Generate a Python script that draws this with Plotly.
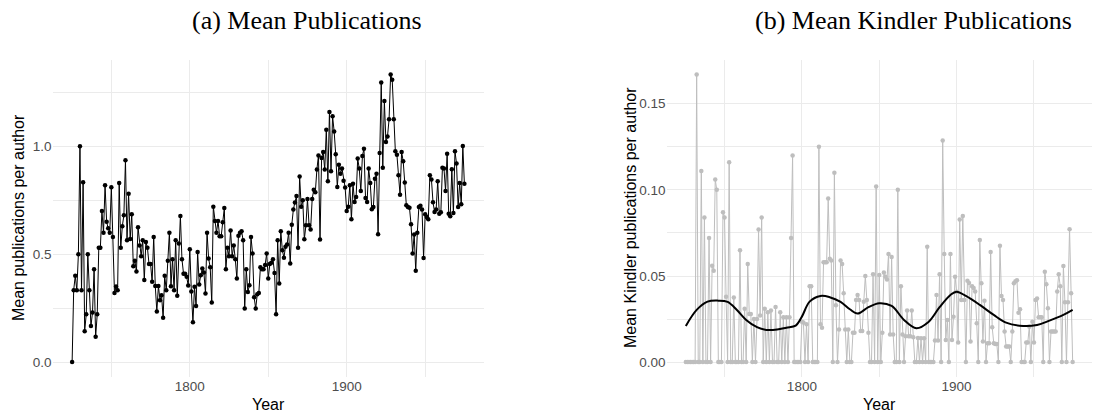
import plotly.graph_objects as go

# ---------------- data ----------------
years = list(range(1725, 1976))

mean_pubs = [
    0.0, 0.333, 0.40, 0.333, 0.50, 1.0, 0.333, 0.833, 0.143, 0.222,
    0.50, 0.333, 0.167, 0.23, 0.43, 0.117, 0.222, 0.53, 0.53, 0.70,
    0.60, 0.82, 0.65, 0.62, 0.60, 0.81, 0.58, 0.32, 0.35, 0.333,
    0.83, 0.53, 0.63, 0.68, 0.935, 0.565, 0.78, 0.57, 0.685, 0.444,
    0.47, 0.42, 0.625, 0.54, 0.49, 0.565, 0.38, 0.557, 0.53, 0.455,
    0.455, 0.372, 0.58, 0.353, 0.235, 0.353, 0.287, 0.31, 0.205, 0.40,
    0.333, 0.47, 0.60, 0.352, 0.477, 0.333, 0.565, 0.307, 0.55, 0.677,
    0.477, 0.41, 0.41, 0.395, 0.355, 0.523, 0.327, 0.185, 0.349, 0.26,
    0.51, 0.36, 0.403, 0.434, 0.415, 0.318, 0.60, 0.48, 0.44, 0.276,
    0.72, 0.654, 0.60, 0.654, 0.583, 0.583, 0.648, 0.714, 0.43, 0.53,
    0.49, 0.61, 0.49, 0.54, 0.477, 0.387, 0.586, 0.60, 0.606, 0.565,
    0.248, 0.43, 0.325, 0.356, 0.58, 0.503, 0.30, 0.248, 0.315, 0.32,
    0.44, 0.43, 0.43, 0.45, 0.503, 0.387, 0.455, 0.46, 0.477, 0.413,
    0.222, 0.565, 0.364, 0.606, 0.518, 0.484, 0.535, 0.545, 0.60, 0.457,
    0.637, 0.707, 0.74, 0.77, 0.53, 0.86, 0.72, 0.75,
    0.569, 0.634, 0.756, 0.634, 0.614, 0.756, 0.799, 0.787, 0.892, 0.958,
    0.568, 0.946, 0.974, 0.892, 1.077, 0.838, 1.159, 0.884, 1.139, 1.069,
    0.963, 0.812, 0.915, 0.873, 0.897, 0.84, 0.809, 0.70, 0.72, 0.82,
    0.662, 0.827, 0.742, 0.765, 0.943, 0.897, 0.793, 0.955, 0.989, 0.761,
    0.742, 0.897, 0.83, 0.708, 0.719, 0.85, 0.873, 0.592, 0.969, 1.296,
    0.901, 1.21, 1.02, 1.046, 1.125, 1.333, 1.309, 1.125, 0.977, 0.961,
    0.866, 0.775, 0.974, 0.931, 0.832, 0.727, 0.719, 0.715, 0.639, 0.503,
    0.591, 0.423, 0.599, 0.719, 0.724, 0.707, 0.483, 0.685, 0.673, 0.662,
    0.866, 0.846, 0.741, 0.696, 0.707, 0.838, 0.688, 0.694, 0.901, 0.897,
    0.793, 0.966, 0.688, 0.676, 0.894, 0.691, 0.977, 0.92, 0.719, 0.83,
    0.731, 1.001, 0.827,
]

kindler_pubs = [
    0, 0, 0, 0, 0, 0, 0, 0.167, 0, 0,
    0.111, 0, 0.084, 0, 0, 0.072, 0, 0.056, 0.053, 0.106,
    0.100, 0, 0, 0, 0.087, 0.084, 0.038, 0, 0.116, 0,
    0, 0.0375, 0, 0, 0, 0.065, 0, 0, 0.031, 0,
    0.057, 0.028, 0.028, 0, 0.025, 0, 0.025, 0.077, 0.027, 0.084,
    0, 0.031, 0, 0.029, 0, 0.030, 0, 0, 0.032, 0,
    0, 0.029, 0, 0.026, 0, 0.026, 0, 0.026, 0.072, 0.12,
    0, 0, 0, 0, 0, 0.0235, 0.023, 0, 0.022, 0,
    0.044, 0.044, 0, 0, 0, 0, 0.125, 0.022, 0.020, 0.058,
    0.058, 0.058, 0.095, 0.060, 0.059, 0, 0.11, 0.033, 0, 0.019,
    0.059, 0.057, 0.040, 0.019, 0, 0.019, 0, 0, 0.017, 0.017,
    0.036, 0.039,
    0.036, 0.018, 0.018, 0.035, 0.050, 0.036, 0.017, 0, 0, 0.051,
    0, 0.102, 0, 0.0506, 0, 0.017, 0.052, 0.0496, 0.048, 0.0627,
    0.016, 0.061, 0.016, 0, 0, 0.100, 0, 0.044, 0.016, 0,
    0.015, 0.030, 0.015, 0.015, 0.030, 0.0145, 0, 0, 0.014, 0,
    0.0139, 0, 0.0139, 0, 0.067, 0, 0, 0, 0, 0.0125,
    0.039, 0.0125, 0.051, 0, 0.1286, 0.0627, 0.0129, 0.0245, 0, 0.0627,
    0.0129, 0.0264, 0.0496, 0.0409, 0.0114, 0.0828, 0.036, 0.0848, 0.036, 0,
    0.0473, 0.046, 0.0119, 0.044, 0.043, 0.041, 0.0226, 0, 0.0709, 0.0458,
    0.012, 0.0357, 0, 0.011, 0.011, 0.064, 0.0203, 0.011, 0.0105, 0.0105,
    0, 0.0676, 0.0384, 0.036, 0.0178, 0.009, 0.009, 0.009, 0, 0.0178,
    0.0458, 0.047, 0.0475, 0.0287, 0.0307, 0, 0, 0, 0.0114, 0.0114,
    0.0206, 0, 0.0235, 0.0114, 0.036, 0.037, 0.026, 0.026, 0.026, 0,
    0.0525, 0.0452, 0.0313, 0, 0.0178, 0.0178, 0.0178, 0.0178, 0.041, 0.051,
    0.044, 0, 0.0558, 0.0348, 0, 0.0348, 0.0772, 0.040, 0,
]

smooth_years = [1725, 1732, 1739, 1746, 1752, 1758, 1764, 1771, 1777, 1784,
                1790, 1796, 1800, 1805, 1812, 1818, 1825, 1831, 1836, 1843,
                1850, 1858, 1866, 1874, 1882, 1889, 1896, 1900, 1906, 1915,
                1924, 1932, 1943, 1952, 1960, 1969, 1975]
smooth_vals = [0.021, 0.0303, 0.0351, 0.0357, 0.0350, 0.0303, 0.0245, 0.0203, 0.0187, 0.0189,
               0.0200, 0.0212, 0.0264, 0.0351, 0.0384, 0.0377, 0.0350, 0.0307, 0.0282, 0.0319,
               0.0342, 0.0326, 0.0245, 0.0197, 0.0235, 0.0319, 0.0390, 0.0409, 0.0384, 0.0332,
               0.0274, 0.0229, 0.0210, 0.0216, 0.0241, 0.0274, 0.0303]

titles = ["(a) Mean Publications", "(b) Mean Kindler Publications"]
y_titles = ["Mean publications per author", "Mean Kindler publications per author"]
x_title = "Year"

# ---------------- figure ----------------
W, H = 1098, 412
def pxx(x): return x / W
def pyy(y): return 1 - y / H

GRID = "#EBEBEB"
TICKFONT = dict(family="Liberation Sans, Arial, sans-serif", size=13.5, color="#4D4D4D")

fig = go.Figure()
fig.add_trace(go.Scatter(x=years, y=mean_pubs, mode="lines+markers",
                         line=dict(color="black", width=1),
                         marker=dict(color="black", size=4.5),
                         xaxis="x", yaxis="y", showlegend=False, hoverinfo="skip"))
fig.add_trace(go.Scatter(x=years, y=kindler_pubs, mode="lines+markers",
                         line=dict(color="#BEBEBE", width=1),
                         marker=dict(color="#BEBEBE", size=4.5),
                         xaxis="x2", yaxis="y2", showlegend=False, hoverinfo="skip"))
fig.add_trace(go.Scatter(x=smooth_years, y=smooth_vals, mode="lines",
                         line=dict(color="black", width=2, shape="spline", smoothing=1.0),
                         xaxis="x2", yaxis="y2", showlegend=False, hoverinfo="skip"))

def axis_common(**kw):
    d = dict(showgrid=True, gridcolor=GRID, gridwidth=1, zeroline=False, showline=False,
             ticks="", tickfont=TICKFONT, fixedrange=True)
    d.update(kw)
    return d

ydom = [pyy(376.5), pyy(60)]
fig.update_layout(
    width=W, height=H,
    margin=dict(l=0, r=0, t=0, b=0),
    paper_bgcolor="white", plot_bgcolor="white",
    xaxis=axis_common(domain=[pxx(52.5), pxx(484)], range=[1712.5, 1987.5],
                      tick0=1800, dtick=100, anchor="y",
                      minor=dict(dtick=50, showgrid=True, gridcolor=GRID, gridwidth=0.6)),
    yaxis=axis_common(domain=ydom, range=[-0.0667, 1.4], tick0=0, dtick=0.5,
                      tickformat=".1f", anchor="x",
                      minor=dict(dtick=0.25, showgrid=True, gridcolor=GRID, gridwidth=0.6)),
    xaxis2=axis_common(domain=[pxx(666.5), pxx(1092)], range=[1712.5, 1987.5],
                       tick0=1800, dtick=100, anchor="y2",
                       minor=dict(dtick=50, showgrid=True, gridcolor=GRID, gridwidth=0.6)),
    yaxis2=axis_common(domain=ydom, range=[-0.00835, 0.1754], tick0=0, dtick=0.05,
                       tickformat=".2f", anchor="x2",
                       minor=dict(dtick=0.025, showgrid=True, gridcolor=GRID, gridwidth=0.6)),
)

TITLEFONT = dict(family="Liberation Serif, Times New Roman, serif", size=26, color="black")
AXTFONT = dict(family="Liberation Sans, Arial, sans-serif", size=16, color="black")

ann = []
ann.append(dict(text=titles[0], x=pxx(307), y=pyy(21), xref="paper", yref="paper",
                xanchor="center", yanchor="middle", showarrow=False, font=TITLEFONT))
ann.append(dict(text=titles[1], x=pxx(913), y=pyy(21), xref="paper", yref="paper",
                xanchor="center", yanchor="middle", showarrow=False, font=TITLEFONT))
ann.append(dict(text=x_title, x=pxx((52.5 + 484) / 2), y=pyy(404), xref="paper", yref="paper",
                xanchor="center", yanchor="middle", showarrow=False, font=AXTFONT))
ann.append(dict(text=x_title, x=pxx((666.5 + 1092) / 2), y=pyy(404), xref="paper", yref="paper",
                xanchor="center", yanchor="middle", showarrow=False, font=AXTFONT))
ann.append(dict(text=y_titles[0], x=pxx(18), y=pyy(218), xref="paper", yref="paper",
                xanchor="center", yanchor="middle", showarrow=False, textangle=-90, font=AXTFONT))
ann.append(dict(text=y_titles[1], x=pxx(630), y=pyy(218), xref="paper", yref="paper",
                xanchor="center", yanchor="middle", showarrow=False, textangle=-90, font=AXTFONT))
fig.update_layout(annotations=ann)

fig.write_html("out.html")
